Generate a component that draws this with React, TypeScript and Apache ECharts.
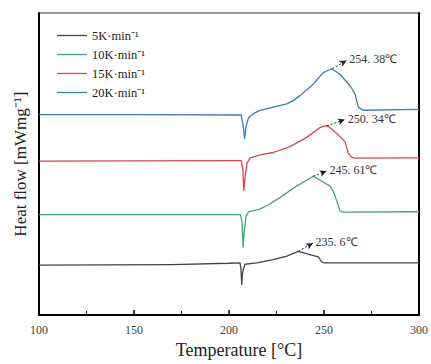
import React, { useEffect, useRef } from "react";
import * as echarts from "echarts";

// Heat flow curves: [temperature °C, relative heat flow (arbitrary, offset per curve)]
const rate5K: [number, number][] = [
  [100, 50.7], [170, 51.2], [200, 52.5], [205.8, 53], [206.3, 47], [206.7, 31], [207.2, 44],
  [208.4, 51.5], [214.6, 53], [223.3, 56.3], [230.4, 59.7], [236.5, 64.5], [243.5, 60.7],
  [247, 59], [248.8, 54], [250, 53], [300, 53],
];
const rate10K: [number, number][] = [
  [100, 101.7], [206, 101.7], [206.9, 94], [207.4, 69], [208, 84], [209, 100], [210.2, 104.5],
  [216.3, 107.3], [221.5, 112.5], [226.8, 119], [235.6, 130.7], [244.4, 140.7], [253.2, 130.7],
  [255.2, 124], [256.7, 115.7], [258.4, 105.7], [260, 104.3], [300, 104.7],
];
const rate15K: [number, number][] = [
  [100, 156], [200, 156.5], [206.5, 156.5], [207.3, 147], [207.8, 126.3], [208.5, 141],
  [209.5, 154], [211.05, 159], [216.3, 162.3], [223.3, 164.7], [232.1, 170.7], [240.9, 180],
  [247.9, 190], [250.3, 191.7], [252.3, 191.3], [256.7, 184], [261.05, 175.7], [262.8, 164],
  [264.5, 160], [266.3, 159], [300, 159.3],
];
const rate20K: [number, number][] = [
  [100, 203], [150, 203], [206.3, 202.7], [207.4, 193], [208.2, 179], [209, 191], [210.3, 200],
  [212.8, 204], [216.3, 207.3], [223.3, 210.7], [230.4, 214], [234, 217.5], [237.4, 222.3],
  [244.4, 234], [249.6, 245.7], [254.05, 249.5], [258.4, 244], [263.7, 232.3], [266.3, 224],
  [268.05, 210.7], [270.7, 207.5], [300, 208.3],
];

const seriesNames = ["5K·min⁻¹", "10K·min⁻¹", "15K·min⁻¹", "20K·min⁻¹"];
const seriesColors = ["#444444", "#45a276", "#d9464f", "#3c7dbd"];
const peakLabels = ["235. 6℃", "245. 61℃", "250. 34℃", "254. 38℃"];
// arrow: from peak to label anchor, in data coordinates
const arrowFrom: [number, number][] = [[236.5, 64.5], [244.4, 140.7], [251.5, 191.7], [254.4, 249.5]];
const arrowTo: [number, number][] = [[244.2, 73], [251.4, 146], [261, 198], [261.9, 258]];

const xTicks = { min: 100, max: 300, interval: 50 };

export default function App() {
  const ref = useRef<HTMLDivElement>(null);
  useEffect(() => {
    if (!ref.current) return;
    const chart = echarts.init(ref.current, undefined, { renderer: "svg" });
    const font = "Liberation Serif, Times New Roman, serif";
    const allData = [rate5K, rate10K, rate15K, rate20K];
    chart.setOption({
      animation: false,
      backgroundColor: "#ffffff",
      textStyle: { fontFamily: font },
      grid: {
        left: 39, right: 12, top: 13, bottom: 45,
        show: true, borderColor: "#333", borderWidth: 1,
      },
      legend: {
        orient: "vertical",
        left: 52, top: 24,
        icon: "rect",
        itemWidth: 30, itemHeight: 1.3, itemGap: 6,
        textStyle: { fontFamily: font, fontSize: 12.5, color: "#222", lineHeight: 13 },
        data: seriesNames.map((n, i) => ({ name: n, itemStyle: { color: seriesColors[i] } })),
      },
      xAxis: {
        type: "value",
        min: xTicks.min, max: xTicks.max, interval: xTicks.interval,
        name: "Temperature [°C]",
        nameLocation: "middle",
        nameGap: 23,
        nameTextStyle: { fontFamily: font, fontSize: 18, color: "#222", padding: [0, 0, 0, 20] },
        axisLine: { show: true, lineStyle: { color: "#000", width: 2 } },
        axisTick: { show: true, inside: true, length: 5, lineStyle: { color: "#000", width: 1.5 } },
        minorTick: { show: true, splitNumber: 2, length: 4, lineStyle: { color: "#000", width: 1 } },
        axisLabel: { fontFamily: font, fontSize: 12, color: "#444", margin: 9 },
        splitLine: { show: false },
      },
      yAxis: [
        {
          type: "value",
          min: 0, max: 306,
          name: "Heat flow [mWmg⁻¹]",
          nameLocation: "middle",
          nameGap: 10,
          nameTextStyle: { fontFamily: font, fontSize: 17, color: "#222" },
          axisLine: { show: true, lineStyle: { color: "#000", width: 2 } },
          axisTick: { show: false },
          axisLabel: { show: false },
          splitLine: { show: false },
        },
        {
          type: "value",
          position: "right",
          min: 0, max: 306,
          axisLine: { show: true, lineStyle: { color: "#000", width: 2 } },
          axisTick: { show: false },
          axisLabel: { show: false },
          splitLine: { show: false },
        },
      ],
      series: allData.map((d, i) => ({
        name: seriesNames[i],
        type: "line",
        data: d,
        symbol: "none",
        showSymbol: false,
        lineStyle: { color: seriesColors[i], width: 1.3, join: "round" },
        itemStyle: { color: seriesColors[i] },
        markLine: {
          silent: true,
          symbol: ["none", "arrow"],
          symbolSize: [5, 7],
          lineStyle: { color: "#222", type: [2, 2], width: 1 },
          label: {
            show: true,
            position: "end",
            formatter: peakLabels[i],
            fontFamily: font,
            fontSize: 12,
            color: "#333",
            distance: 3,
          },
          data: [[{ coord: arrowFrom[i] }, { coord: arrowTo[i] }]],
        },
      })),
    });
    return () => chart.dispose();
  }, []);
  return <div ref={ref} style={{ width: 431, height: 364, position: "absolute", left: 0, top: 0 }} />;
}
